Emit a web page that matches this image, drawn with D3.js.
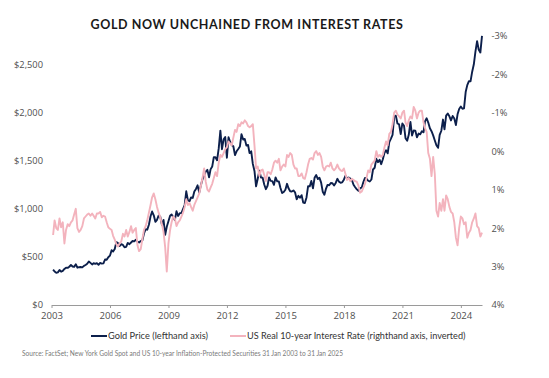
<!DOCTYPE html>
<html>
<head>
<meta charset="utf-8">
<script src="https://cdn.jsdelivr.net/npm/d3@7"></script>
<style>
  html, body { margin: 0; padding: 0; background: #fff; }
  svg { display: block; }
</style>
</head>
<body>
<svg id="chart" width="549" height="378"></svg>
<script>
// ---- Data (month-end values, Jan 2003 .. Jan 2025) ----
const startMonth = "2003-01-31";
const goldPrice = [
  368, 348, 335, 339, 364, 346, 354, 375, 388, 386, 398, 416,
  400, 396, 424, 388, 393, 395, 391, 407, 416, 428, 453, 438,
  422, 435, 428, 435, 418, 437, 430, 433, 473, 470, 496, 513,
  569, 556, 582, 654, 643, 613, 632, 624, 600, 604, 646, 632,
  650, 665, 662, 679, 659, 650, 665, 673, 743, 789, 783, 834,
  923, 972, 933, 865, 886, 930, 918, 833, 884, 730, 814, 870,
  928, 942, 916, 883, 975, 926, 955, 955, 996, 1040, 1182, 1088,
  1081, 1119, 1113, 1180, 1207, 1244, 1169, 1246, 1307, 1346, 1386, 1405,
  1327, 1410, 1439, 1536, 1536, 1505, 1628, 1813, 1620, 1722, 1746, 1531,
  1744, 1697, 1662, 1651, 1558, 1598, 1622, 1648, 1776, 1720, 1726, 1657,
  1664, 1579, 1598, 1467, 1394, 1234, 1312, 1396, 1326, 1324, 1253, 1204,
  1240, 1326, 1291, 1288, 1250, 1327, 1285, 1285, 1217, 1164, 1175, 1199,
  1260, 1213, 1183, 1180, 1191, 1172, 1098, 1135, 1115, 1142, 1065, 1060,
  1118, 1234, 1233, 1290, 1213, 1322, 1351, 1309, 1322, 1273, 1178, 1146,
  1211, 1249, 1245, 1268, 1266, 1242, 1269, 1312, 1283, 1271, 1275, 1303,
  1345, 1318, 1325, 1315, 1298, 1250, 1224, 1202, 1187, 1215, 1220, 1279,
  1321, 1313, 1292, 1284, 1305, 1409, 1427, 1520, 1485, 1511, 1464, 1515,
  1582, 1609, 1577, 1694, 1730, 1768, 1962, 1968, 1887, 1879, 1777, 1888,
  1863, 1734, 1708, 1769, 1903, 1763, 1814, 1813, 1743, 1783, 1774, 1806,
  1796, 1909, 1942, 1897, 1837, 1807, 1764, 1711, 1661, 1634, 1768, 1812,
  1928, 1827, 1969, 1990, 1962, 1919, 1965, 1940, 1871, 1983, 2038, 2063,
  2040, 2044, 2214, 2286, 2327, 2326, 2426, 2503, 2634, 2744, 2657, 2625,
  2798
];
const realRate = [
  2.18, 1.80, 2.00, 2.05, 1.75, 1.98, 1.85, 2.40, 2.05, 1.90, 1.95, 1.85,
  1.80, 1.65, 1.50, 2.00, 2.10, 2.05, 1.95, 1.75, 1.70, 1.65, 1.62, 1.68,
  1.62, 1.68, 1.75, 1.62, 1.62, 1.58, 1.72, 1.68, 1.70, 1.85, 1.98, 2.02,
  2.05, 2.20, 2.30, 2.42, 2.48, 2.40, 2.35, 2.15, 2.22, 2.05, 2.22, 2.10,
  1.95, 2.12, 2.05, 2.00, 2.45, 2.60, 2.55, 2.28, 2.05, 1.95, 1.80, 1.60,
  1.40, 1.20, 1.10, 1.25, 1.45, 1.60, 1.72, 1.90, 2.10, 2.50, 3.13, 2.40,
  2.05, 1.85, 1.70, 1.75, 1.95, 1.85, 1.80, 1.70, 1.60, 1.45, 1.25, 1.40,
  1.35, 1.45, 1.55, 1.40, 1.30, 1.20, 1.10, 0.90, 0.70, 0.45, 0.80, 1.00,
  1.05, 0.95, 0.85, 0.70, 0.55, 0.65, 0.30, 0.10, 0.15, 0.05, -0.05, -0.10,
  -0.25, -0.20, -0.15, -0.35, -0.55, -0.50, -0.70, -0.65, -0.75, -0.72, -0.80, -0.75,
  -0.65, -0.62, -0.65, -0.70, -0.15, 0.45, 0.40, 0.65, 0.50, 0.48, 0.62, 0.78,
  0.55, 0.55, 0.60, 0.48, 0.30, 0.25, 0.30, 0.20, 0.50, 0.40, 0.35, 0.40,
  0.10, 0.15, 0.05, 0.10, 0.35, 0.45, 0.45, 0.65, 0.65, 0.58, 0.70, 0.72,
  0.55, 0.35, 0.20, 0.18, 0.22, 0.05, 0.00, 0.10, 0.05, 0.15, 0.40, 0.50,
  0.40, 0.38, 0.40, 0.30, 0.45, 0.50, 0.45, 0.35, 0.45, 0.50, 0.52, 0.45,
  0.60, 0.75, 0.70, 0.78, 0.72, 0.75, 0.78, 0.80, 0.90, 1.08, 1.05, 0.95,
  0.85, 0.70, 0.50, 0.55, 0.35, 0.30, 0.25, 0.00, 0.15, 0.10, 0.15, 0.10,
  -0.10, -0.25, -0.15, -0.45, -0.50, -0.70, -1.00, -1.05, -0.95, -0.90, -0.85, -1.00,
  -1.05, -0.75, -0.65, -0.80, -0.90, -0.85, -1.15, -1.05, -0.85, -1.00, -1.05, -1.05,
  -0.75, -0.60, -0.50, 0.05, 0.20, 0.65, 0.15, 0.60, 1.55, 1.70, 1.35, 1.55,
  1.25, 1.55, 1.15, 1.25, 1.45, 1.58, 1.62, 1.85, 2.25, 2.45, 2.00, 1.70,
  1.75, 1.90, 1.85, 2.25, 2.12, 2.05, 1.85, 1.75, 1.62, 1.95, 2.00, 2.22,
  2.12
];
const yearTicks = [2003, 2006, 2009, 2012, 2015, 2018, 2021, 2024];
const goldTicks = [0, 500, 1000, 1500, 2000, 2500];
const rateTicks = [-3, -2, -1, 0, 1, 2, 3, 4];
const titleText = "GOLD NOW UNCHAINED FROM INTEREST RATES";
const legendLabels = ["Gold Price (lefthand axis)", "US Real 10-year Interest Rate (righthand axis, inverted)"];
const sourceText = "Source: FactSet; New York Gold Spot and US 10-year Inflation-Protected Securities 31 Jan 2003 to 31 Jan 2025";

// ---- Setup ----
const svg = d3.select("#chart");
const W = 549, H = 378;
const plotL = 51.5, plotR = 482, plotT = 35.7, plotB = 305;
const navy = "#0c1f4b", pink = "#f3b3bd";
const font = "Lato, 'Open Sans', sans-serif";
const tickFont = "'Open Sans', Lato, sans-serif";

const parse = d3.timeParse("%Y-%m-%d");
const t0 = parse(startMonth);
const dates = goldPrice.map((_, i) => d3.timeDay.offset(d3.timeMonth.offset(d3.timeMonth.floor(t0), i + 1), -1));

const x = d3.scaleTime().domain([new Date(2003, 0, 1), new Date(2025, 0, 31)]).range([plotL, plotR]);
const yL = d3.scaleLinear().domain([0, 2800]).range([plotB, plotT]);
const yR = d3.scaleLinear().domain([-3, 4]).range([plotT, plotB]);

svg.append("rect").attr("width", W).attr("height", H).attr("fill", "#fff");

function fitText(sel, target) {
  const node = sel.node();
  const w = node.getComputedTextLength();
  const fs = parseFloat(sel.attr("font-size"));
  if (w > 0) sel.attr("font-size", (fs * target / w).toFixed(2));
}

// Title
const title = svg.append("text")
  .attr("x", 247).attr("y", 29)
  .attr("text-anchor", "middle")
  .attr("font-family", font).attr("font-weight", 700)
  .attr("font-size", 13).attr("letter-spacing", "0.6px")
  .attr("fill", "#1a1a1a")
  .text(titleText);
fitText(title, 312);

// Bottom axis
const xAxis = d3.axisBottom(x)
  .tickValues(yearTicks.map(yr => new Date(yr, 0, 1)))
  .tickFormat(d3.timeFormat("%Y"))
  .tickSize(3).tickSizeOuter(0);
const gx = svg.append("g").attr("transform", `translate(0,${plotB})`).call(xAxis);
gx.select(".domain").attr("stroke", "#9a9a9a").attr("stroke-width", 1);
gx.selectAll(".tick line").attr("stroke", "#9a9a9a");
gx.selectAll(".tick text").attr("font-family", tickFont).attr("font-size", 9.6)
  .attr("fill", "#505050").attr("dy", "0.71em").attr("y", 7);

// Left axis
const yAxisL = d3.axisLeft(yL).tickValues(goldTicks)
  .tickFormat(d => "$" + d3.format(",")(d)).tickSize(0);
const gl = svg.append("g").attr("transform", `translate(43,0)`).call(yAxisL);
gl.select(".domain").remove();
gl.selectAll(".tick text").attr("font-family", tickFont).attr("font-size", 9.3)
  .attr("fill", "#505050").attr("x", 0);

// Right axis
const yAxisR = d3.axisRight(yR).tickValues(rateTicks)
  .tickFormat(d => d + "%").tickSize(0);
const gr = svg.append("g").attr("transform", `translate(491.5,0)`).call(yAxisR);
gr.select(".domain").remove();
gr.selectAll(".tick text").attr("font-family", tickFont).attr("font-size", 9.3)
  .attr("fill", "#505050").attr("x", 0);

// Lines
const goldLine = d3.line().x((d, i) => x(dates[i])).y(d => yL(d));
const rateLine = d3.line().x((d, i) => x(dates[i])).y(d => yR(d));

svg.append("path").datum(goldPrice)
  .attr("d", goldLine).attr("fill", "none")
  .attr("stroke", navy).attr("stroke-width", 1.9).attr("stroke-linejoin", "round");
svg.append("path").datum(realRate)
  .attr("d", rateLine).attr("fill", "none")
  .attr("stroke", pink).attr("stroke-width", 1.9).attr("stroke-linejoin", "round");

// Legend
const legY = 336;
const legItems = [
  { x0: 91, x1: 107, tx: 108, w: 100, color: navy, label: legendLabels[0] },
  { x0: 230, x1: 246, tx: 247, w: 219, color: pink, label: legendLabels[1] }
];
legItems.forEach(it => {
  svg.append("line").attr("x1", it.x0).attr("x2", it.x1).attr("y1", legY).attr("y2", legY)
    .attr("stroke", it.color).attr("stroke-width", 2);
  const t = svg.append("text").attr("x", it.tx).attr("y", legY).attr("dy", "0.35em")
    .attr("font-family", font).attr("font-size", 9.5).attr("fill", "#333").text(it.label);
  fitText(t, it.w);
});

// Source
const src = svg.append("text").attr("x", 22).attr("y", 354).attr("dy", "0.35em")
  .attr("font-family", font).attr("font-size", 6).attr("fill", "#7a7a7a").text(sourceText);
fitText(src, 321);
</script>
</body>
</html>
